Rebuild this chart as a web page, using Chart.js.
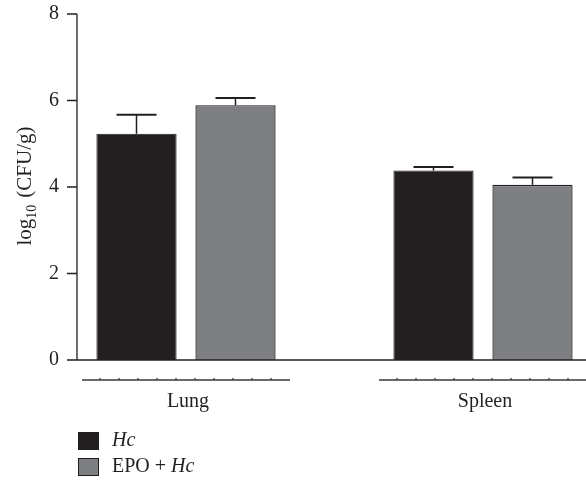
<!DOCTYPE html>
<html>
<head>
<meta charset="utf-8">
<script src="https://cdn.jsdelivr.net/npm/chart.js@4.4.1/dist/chart.umd.min.js"></script>
<style>
  html, body { margin: 0; padding: 0; background: #fff; }
  #wrap { width: 586px; height: 480px; }
</style>
</head>
<body>
<div id="wrap"><canvas id="cfu"></canvas></div>
<script>
const organs = ['Lung', 'Spleen'];
const seriesNames = ['Hc', 'EPO + Hc'];
const hcMeans = [5.23, 4.38];
const hcSem = [0.44, 0.08];
const epoMeans = [5.89, 4.05];
const epoSem = [0.17, 0.17];
const yTicks = [0, 2, 4, 6, 8];

const INK = '#231f20';
const GREY = '#7e7f82';
const FONT = '"Liberation Serif", "Times New Roman", serif';

// two bar slots per organ, one empty slot between organs
const slots = [];
const groupSlots = [];
organs.forEach((o, i) => {
  if (i > 0) slots.push('');
  groupSlots.push([slots.length, slots.length + 1]);
  slots.push(o + ' ' + seriesNames[0], o + ' ' + seriesNames[1]);
});

function spread(values, which) {
  const out = [];
  values.forEach((v, i) => {
    if (i > 0) out.push(null);
    out.push(which === 0 ? v : null, which === 1 ? v : null);
  });
  return out;
}

// draw "Hc" in italics wherever it shows up in a label
function drawMixed(ctx, text, x, y, size) {
  const parts = text.split(/(Hc)/).filter(p => p.length);
  parts.forEach(p => {
    ctx.font = (p === 'Hc' ? 'italic ' : '') + size + 'px ' + FONT;
    ctx.fillText(p, x, y);
    x += ctx.measureText(p).width;
  });
}

const prismExtras = {
  id: 'prismExtras',
  afterDatasetsDraw(chart) {
    const ctx = chart.ctx;
    const xs = chart.scales.x;
    const ys = chart.scales.y;
    const axisX = chart.chartArea.left - 10;
    const y0 = ys.getPixelForValue(0);
    const yMax = ys.getPixelForValue(8);

    ctx.save();
    ctx.strokeStyle = INK;
    ctx.fillStyle = INK;

    // error bars (upper only)
    chart.data.datasets.forEach((ds, di) => {
      const meta = chart.getDatasetMeta(di);
      ds.data.forEach((v, i) => {
        if (v === null) return;
        const el = meta.data[i];
        const top = ys.getPixelForValue(v + ds.errors[i]);
        ctx.lineWidth = 1.5;
        ctx.beginPath();
        ctx.moveTo(el.x, el.y);
        ctx.lineTo(el.x, top);
        ctx.stroke();
        ctx.lineWidth = 2;
        ctx.beginPath();
        ctx.moveTo(el.x - 20, top);
        ctx.lineTo(el.x + 20, top);
        ctx.stroke();
      });
    });

    // axes
    ctx.lineWidth = 1.3;
    ctx.beginPath();
    ctx.moveTo(axisX, yMax);
    ctx.lineTo(axisX, y0);
    ctx.moveTo(axisX - 10, y0);
    ctx.lineTo(chart.width, y0);
    yTicks.forEach(t => {
      const py = ys.getPixelForValue(t);
      ctx.moveTo(axisX - 10, py);
      ctx.lineTo(axisX, py);
    });
    ctx.stroke();

    // organ group lines and names
    groupSlots.forEach((g, gi) => {
      const cx = (xs.getPixelForValue(g[0]) + xs.getPixelForValue(g[1])) / 2;
      const x1 = cx - 104, x2 = cx + 104;
      const ly = y0 + 20;
      ctx.strokeStyle = '#3a3a3a';
      ctx.lineWidth = 1.3;
      ctx.beginPath();
      ctx.moveTo(x1, ly);
      ctx.lineTo(x2, ly);
      for (let tx = x1 + 18; tx < x2 - 4; tx += 19) {
        ctx.moveTo(tx, ly);
        ctx.lineTo(tx, ly - 2);
      }
      ctx.stroke();
      ctx.fillStyle = INK;
      ctx.font = '20px ' + FONT;
      ctx.textAlign = 'center';
      ctx.textBaseline = 'alphabetic';
      ctx.fillText(organs[gi], cx + 2, y0 + 47);
    });

    // y axis title with subscript
    ctx.save();
    ctx.translate(31, 186);
    ctx.rotate(-Math.PI / 2);
    ctx.textAlign = 'left';
    ctx.textBaseline = 'alphabetic';
    ctx.font = '21px ' + FONT;
    const wLog = ctx.measureText('log').width;
    const wRest = ctx.measureText('(CFU/g)').width;
    ctx.font = '14px ' + FONT;
    const wSub = ctx.measureText('10').width;
    const gap = 7;
    let tx = -(wLog + wSub + gap + wRest) / 2;
    ctx.font = '21px ' + FONT;
    ctx.fillText('log', tx, 0);
    tx += wLog;
    ctx.font = '14px ' + FONT;
    ctx.fillText('10', tx, 5);
    tx += wSub + gap;
    ctx.font = '21px ' + FONT;
    ctx.fillText('(CFU/g)', tx, 0);
    ctx.restore();

    // legend
    ctx.textAlign = 'left';
    ctx.textBaseline = 'middle';
    chart.data.datasets.forEach((ds, di) => {
      const ly = 432 + di * 26;
      ctx.fillStyle = ds.backgroundColor;
      ctx.fillRect(78, ly, 21, 18);
      ctx.strokeStyle = INK;
      ctx.lineWidth = 1;
      ctx.strokeRect(78.5, ly + 0.5, 20, 17);
      ctx.fillStyle = INK;
      drawMixed(ctx, ds.label, 112, ly + 9, 20);
    });

    ctx.restore();
  }
};

new Chart(document.getElementById('cfu'), {
  type: 'bar',
  data: {
    labels: slots,
    datasets: [
      {
        label: seriesNames[0],
        data: spread(hcMeans, 0),
        errors: spread(hcSem, 0),
        backgroundColor: INK,
        borderColor: INK,
        borderWidth: 1,
        grouped: false
      },
      {
        label: seriesNames[1],
        data: spread(epoMeans, 1),
        errors: spread(epoSem, 1),
        backgroundColor: GREY,
        borderColor: INK,
        borderWidth: 1.3,
        grouped: false
      }
    ]
  },
  options: {
    responsive: true,
    maintainAspectRatio: false,
    animation: false,
    layout: { padding: { top: 14, right: 4, bottom: 120, left: 0 } },
    categoryPercentage: 1,
    barPercentage: 0.81,
    plugins: {
      legend: { display: false },
      tooltip: { enabled: false }
    },
    scales: {
      x: { display: false, offset: true },
      y: {
        min: 0,
        max: 8,
        afterFit(scale) {
          scale.width = 87;
          scale.paddingTop = 0;
          scale.paddingBottom = 0;
        },
        afterBuildTicks(scale) { scale.ticks = yTicks.map(v => ({ value: v })); },
        border: { display: false },
        grid: { display: false, drawTicks: false },
        ticks: {
          padding: 28,
          color: INK,
          font: { family: FONT, size: 20 }
        }
      }
    }
  },
  plugins: [prismExtras]
});
</script>
</body>
</html>
